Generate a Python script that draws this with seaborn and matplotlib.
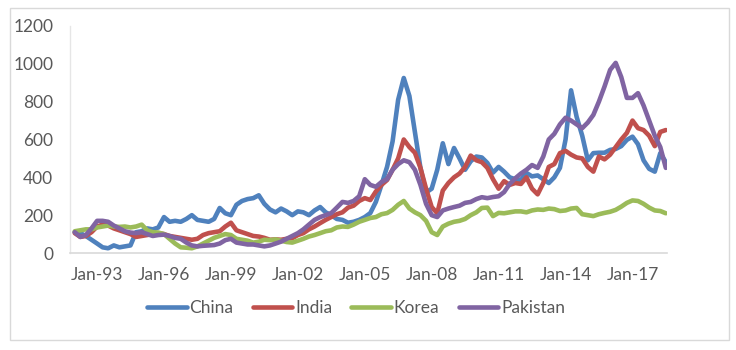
import numpy as np
import pandas as pd
import matplotlib
matplotlib.use("Agg")
import matplotlib.pyplot as plt
import matplotlib.dates as mdates
from matplotlib.patches import Rectangle
import seaborn as sns

# Quarterly observations, Jan 1992 .. Jul 2018
start_date = "1992-01-01"

china = [110, 105, 90, 70, 50, 30, 25, 40, 30, 35, 40, 110, 115, 130, 125, 135,
         190, 165, 170, 165, 180, 200, 175, 170, 165, 180, 238, 210, 200, 255, 275, 285,
         290, 305, 260, 230, 215, 235, 220, 200, 220, 215, 200, 225, 243, 215, 200, 180,
         175, 160, 165, 175, 190, 211, 270, 360, 456, 590, 810, 925, 830, 640, 450, 320,
         340, 440, 580, 470, 555, 500, 440, 485, 510, 505, 476, 425, 455, 430, 400, 390,
         386, 423, 405, 410, 390, 370, 400, 450, 600, 860, 720, 620, 490, 528, 530, 530,
         545, 550, 565, 598, 615, 575, 490, 445, 430, 528, 480]

india = [105, 85, 90, 110, 140, 150, 145, 130, 120, 110, 100, 85, 90, 95, 100, 105,
         100, 90, 85, 80, 75, 70, 75, 95, 105, 110, 115, 140, 160, 120, 110, 100,
         90, 87, 80, 70, 72, 70, 75, 78, 95, 105, 125, 140, 158, 175, 190, 205,
         215, 240, 250, 275, 290, 280, 325, 360, 386, 440, 500, 600, 560, 530, 450, 340,
         243, 210, 330, 370, 400, 420, 455, 515, 490, 480, 450, 390, 340, 380, 360, 370,
         365, 400, 340, 310, 370, 455, 470, 528, 540, 520, 505, 500, 455, 430, 510, 495,
         520, 560, 600, 635, 700, 660, 650, 620, 565, 640, 650]

korea = [115, 120, 125, 125, 135, 140, 145, 140, 138, 140, 135, 140, 150, 120, 110, 108,
         100, 75, 50, 30, 28, 25, 35, 50, 65, 80, 90, 100, 95, 75, 70, 65,
         55, 60, 70, 68, 72, 65, 58, 55, 65, 75, 87, 95, 105, 115, 120, 135,
         140, 138, 150, 165, 175, 185, 190, 205, 211, 228, 255, 275, 235, 215, 200, 170,
         110, 95, 140, 155, 165, 170, 180, 200, 215, 238, 240, 195, 212, 210, 215, 220,
         220, 215, 225, 230, 228, 235, 232, 222, 225, 235, 238, 205, 200, 195, 205, 212,
         218, 228, 245, 265, 278, 275, 260, 240, 225, 222, 210]

pakistan = [110, 85, 95, 130, 170, 170, 165, 145, 130, 115, 108, 105, 110, 100, 90, 95,
            97, 90, 80, 75, 55, 40, 35, 38, 40, 42, 50, 68, 75, 55, 50, 45,
            45, 40, 35, 40, 50, 60, 75, 90, 105, 125, 150, 175, 190, 200, 211, 240,
            270, 265, 275, 300, 390, 360, 350, 375, 390, 440, 470, 490, 480, 440, 360, 260,
            200, 190, 225, 235, 243, 250, 265, 270, 285, 295, 290, 296, 300, 322, 365, 395,
            420, 440, 465, 450, 510, 600, 630, 680, 715, 700, 680, 660, 690, 730, 800, 880,
            968, 1005, 930, 820, 820, 845, 780, 700, 620, 560, 450]

series_names = ["China", "India", "Korea", "Pakistan"]
colors = ["#4F81BD", "#C0504D", "#9BBB59", "#8064A2"]
tick_years = [1993, 1996, 1999, 2002, 2005, 2008, 2011, 2014, 2017]
y_ticks = [0, 200, 400, 600, 800, 1000, 1200]

dates = pd.date_range(start_date, periods=len(china), freq="QS")
df = pd.DataFrame({"date": dates, "China": china, "India": india,
                   "Korea": korea, "Pakistan": pakistan})
long = df.melt(id_vars="date", var_name="country", value_name="value")

sns.set_style("white")
plt.rcParams["font.family"] = ["Lato", "DejaVu Sans"]

fig = plt.figure(figsize=(7.36, 3.5), dpi=100)
ax = fig.add_axes([70 / 736, 1 - 253 / 350, (667 - 70) / 736, (253 - 26) / 350])

sns.lineplot(data=long, x="date", y="value", hue="country",
             hue_order=series_names, palette=colors, linewidth=3.3,
             ax=ax, legend=True)

ax.set_ylim(0, 1200)
ax.set_xlim(pd.Timestamp("1991-10-15"), pd.Timestamp("2018-07-20"))
ax.set_yticks(y_ticks)
ax.set_xticks([pd.Timestamp(f"{y}-01-01") for y in tick_years])
ax.xaxis.set_major_formatter(mdates.DateFormatter("%b-%y"))
ax.set_xlabel("")
ax.set_ylabel("")
ax.tick_params(axis="both", length=0, labelsize=12.5, labelcolor="#595959")
ax.tick_params(axis="y", pad=12)
ax.tick_params(axis="x", pad=10)

for s in ["top", "right"]:
    ax.spines[s].set_visible(False)
ax.spines["left"].set_color("#e6e6e6")
ax.spines["bottom"].set_color("#d9d9d9")
ax.spines["left"].set_linewidth(1.0)
ax.spines["bottom"].set_linewidth(1.2)

handles, labels = ax.get_legend_handles_labels()
for h in handles:
    h.set_linewidth(3.3)
ax.legend(handles, labels, loc="center", bbox_to_anchor=(356 / 736, 1 - 308 / 350),
          bbox_transform=fig.transFigure, ncol=4, frameon=False, fontsize=12.5,
          handlelength=2.3, handletextpad=0.15, columnspacing=1.1,
          labelcolor="#595959")

fig.patches.append(Rectangle((10 / 736, 1 - 340 / 350), (729 - 10) / 736, (340 - 8) / 350,
                             transform=fig.transFigure, fill=False,
                             edgecolor="#d9d9d9", linewidth=1.0))

fig.savefig("out.png", dpi=100)
